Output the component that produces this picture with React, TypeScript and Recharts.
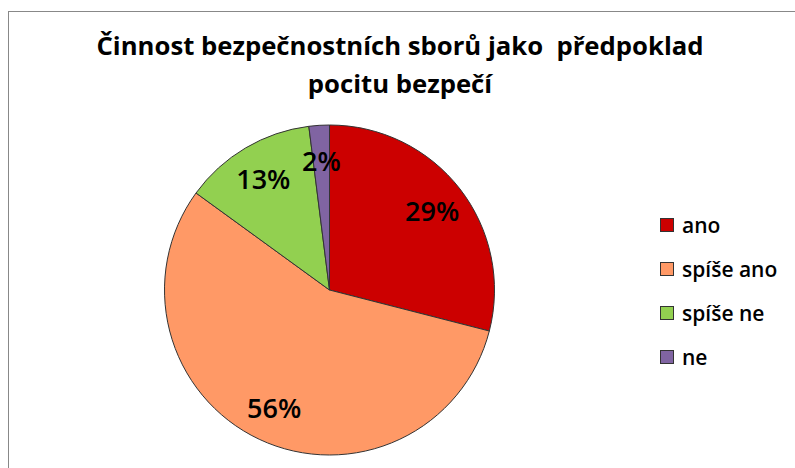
import { PieChart, Pie, Cell, Legend } from 'recharts';

const categories = ['ano', 'spíše ano', 'spíše ne', 'ne'];
const shares = [29, 56, 13, 2];
const colors = ['#CC0000', '#FF9966', '#92D050', '#8064A2'];
const titleLines = ['Činnost bezpečnostních sborů jako  předpoklad', 'pocitu bezpečí'];

const data = categories.map((name, i) => ({ name, value: shares[i] }));

const RADIAN = Math.PI / 180;
const FONT = '"Open Sans", "DejaVu Sans", sans-serif';

const renderLabel = ({ cx, cy, midAngle, value }: any) => {
  const r = 130;
  const x = cx + r * Math.cos(-midAngle * RADIAN);
  const y = cy + r * Math.sin(-midAngle * RADIAN);
  return (
    <text x={x} y={y} fill="#000" textAnchor="middle" dominantBaseline="central"
      fontFamily={FONT} fontSize={27} fontWeight={600}>
      {`${value}%`}
    </text>
  );
};

const renderLegend = () => (
  <div style={{ fontFamily: FONT }}>
    {data.map((d, i) => (
      <div key={d.name} style={{ display: 'flex', alignItems: 'center', height: 44 }}>
        <span style={{
          width: 12, height: 12, background: colors[i], border: '1px solid #333',
          display: 'inline-block', marginRight: 8,
        }} />
        <span style={{ fontSize: 21, fontWeight: 600, color: '#000' }}>{d.name}</span>
      </div>
    ))}
  </div>
);

export default function App() {
  return (
    <div style={{ position: 'absolute', left: 0, top: 0, width: 795, height: 468, background: '#fff', overflow: 'hidden' }}>
      <div style={{
        position: 'absolute', left: 8, top: 11, width: 800, height: 480,
        border: '1.5px solid #888', boxSizing: 'border-box',
      }} />
      <div style={{
        position: 'absolute', left: 0, top: 27, width: 800, textAlign: 'center',
        fontFamily: FONT, fontSize: 25.7, fontWeight: 700, lineHeight: '38px', color: '#000',
        whiteSpace: 'pre',
      }}>
        {titleLines.map((t) => <div key={t}>{t}</div>)}
      </div>
      <PieChart width={795} height={468} margin={{ top: 0, right: 0, bottom: 0, left: 0 }}
        style={{ position: 'absolute', left: 0, top: 0 }}>
        <Pie
          data={data}
          dataKey="value"
          nameKey="name"
          cx={329.5}
          cy={290}
          outerRadius={165}
          startAngle={90}
          endAngle={-270}
          stroke="#333"
          strokeWidth={1}
          label={renderLabel}
          labelLine={false}
          isAnimationActive={false}
        >
          {data.map((d, i) => (
            <Cell key={d.name} fill={colors[i]} />
          ))}
        </Pie>
        <Legend
          content={renderLegend}
          layout="vertical"
          wrapperStyle={{ position: 'absolute', left: 660, top: 203, width: 140 }}
        />
      </PieChart>
    </div>
  );
}
